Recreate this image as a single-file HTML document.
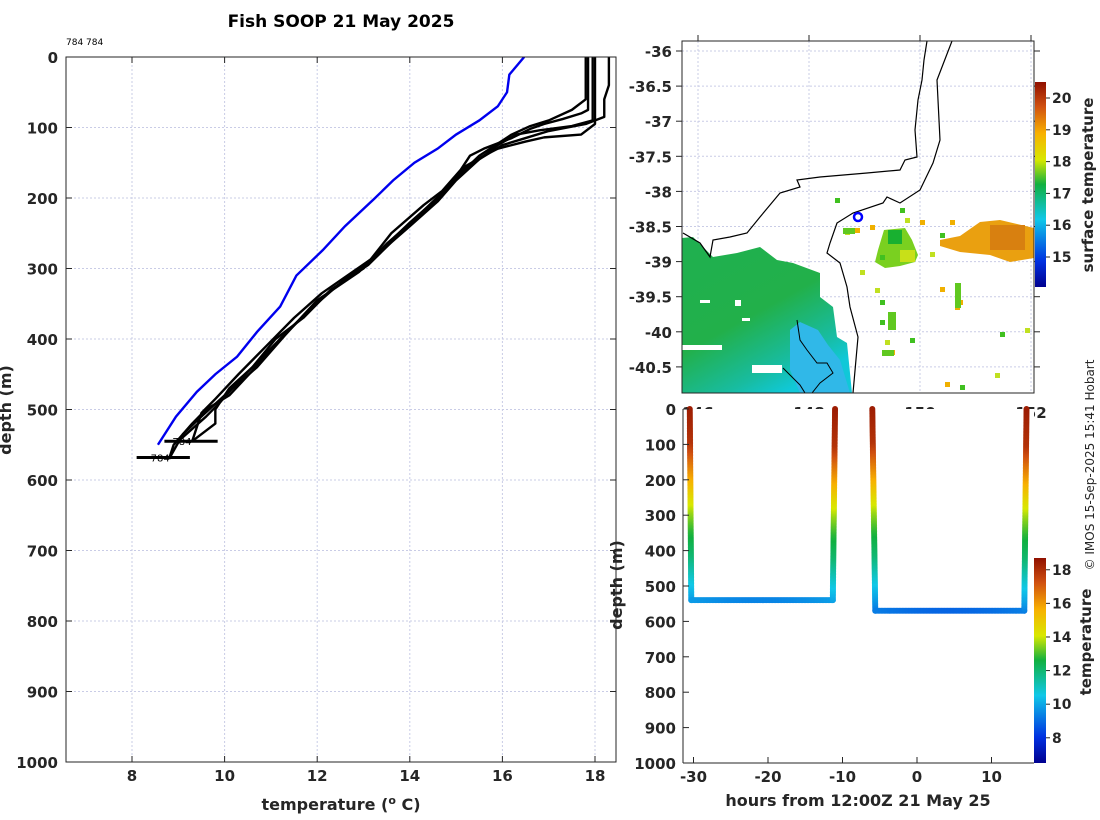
<!DOCTYPE html>
<html><head><meta charset="utf-8">
<style>
html,body{margin:0;padding:0;background:#fff;}
svg{display:block;font-family:"DejaVu Sans","Liberation Sans",sans-serif;}
.tk{font-size:15px;font-weight:bold;fill:#262626;}
.lb{font-size:16px;font-weight:bold;fill:#262626;}
.grid{stroke:#c9cce6;stroke-width:1;stroke-dasharray:2,2;}
</style></head>
<body>
<svg id="s" width="1100" height="820" viewBox="0 0 1100 820" xmlns="http://www.w3.org/2000/svg">
<defs>
<clipPath id="cpL"><rect x="66" y="57" width="550" height="705"/></clipPath>
<clipPath id="cpM"><rect x="682" y="41" width="352" height="352"/></clipPath>
<linearGradient id="jetV" x1="0" y1="1" x2="0" y2="0">
<stop offset="0" stop-color="#00008f"/><stop offset="0.125" stop-color="#0030e0"/><stop offset="0.33" stop-color="#10c8e8"/><stop offset="0.5" stop-color="#10b040"/><stop offset="0.62" stop-color="#d8e800"/><stop offset="0.75" stop-color="#f8b000"/><stop offset="0.88" stop-color="#d05010"/><stop offset="1" stop-color="#901000"/>
</linearGradient>
<linearGradient id="sstG" x1="0" y1="0" x2="0.6" y2="1">
<stop offset="0" stop-color="#1fb050"/><stop offset="0.55" stop-color="#22b04a"/><stop offset="0.85" stop-color="#18bca0"/><stop offset="1" stop-color="#10c8d8"/>
</linearGradient>
</defs>
<text x="341" y="27" text-anchor="middle" style="font-size:17px;font-weight:bold">Fish SOOP 21 May 2025</text>
<text x="66" y="45" style="font-size:9px">784 784</text>
<g id="left"></g>
<g id="map"></g>
<g id="track"></g>
<text transform="translate(1094,465) rotate(-90)" text-anchor="middle" style="font-size:12px;fill:#262626">© IMOS 15-Sep-2025 15:41 Hobart</text>
</svg>
<script>
// ---------- data ----------
const tempTicks=[8,10,12,14,16,18];
const depthTicks=[0,100,200,300,400,500,600,700,800,900,1000];
const blueTemp=[16.47,16.15,16.1,15.9,15.5,15.0,14.6,14.1,13.64,13.25,12.6,12.12,11.55,11.2,10.7,10.27,9.8,9.4,8.95,8.56];
const blueDepth=[0,25,50,70,90,110,130,150,175,200,240,274,310,354,390,425,450,475,510,550];
const profA_T=[17.85,17.85,17.7,17.3,16.9,16.6,16.2,15.6,15.3,15.1,14.7,14.3,13.6,13.0,12.3,11.7,11.1,10.6,10.1,9.8,9.8,9.3];
const profA_D=[0,75,80,88,95,102,115,130,140,160,190,210,250,300,330,370,400,440,470,500,520,545];
const profB_T=[17.95,17.95,17.5,16.8,16.3,15.9,15.7,15.4,14.9,14.5,13.8,13.1,12.3,11.5,10.9,10.3,9.9,9.6,9.0];
const profB_D=[0,90,98,104,110,125,135,150,180,205,250,295,330,380,420,460,490,510,545];
const profC_T=[18.0,18.0,17.7,16.9,16.5,15.9,15.6,15.2,14.7,14.2,13.5,12.9,12.0,11.3,10.7,10.0,9.5,9.1,8.8];
const profC_D=[0,95,110,114,120,130,140,155,195,225,265,305,345,395,440,480,510,535,570];
const profD_T=[18.3,18.3,18.2,18.2,17.8,17.0,16.5,16.0,15.5,15.0,14.6,14.0,13.3,12.6,11.9,11.2,10.6,10.1,9.6,9.3,8.9,8.8];
const profD_D=[0,40,60,85,95,105,115,125,145,175,205,240,280,315,355,400,445,480,500,520,550,570];
const profE_T=[17.8,17.8,17.5,17.0,16.6,16.2,15.5,15.1,14.6,14.0,13.2,12.1,11.5,10.9,10.3,9.8,9.5,9.3];
const profE_D=[0,60,75,90,98,110,140,165,200,235,285,335,370,410,450,485,505,545];
const markerDepth=[545,568];
const markerT0=[8.7,8.1];
const markerT1=[9.85,9.25];
const latTicks=[-36,-36.5,-37,-37.5,-38,-38.5,-39,-39.5,-40,-40.5];
const lonTicks=[146,148,150,152];
const sstTicks=[15,16,17,18,19,20];
const hourTicks=[-30,-20,-10,0,10];
const cbTicks=[8,10,12,14,16,18];
const trackHour1=[-30.5,-30.3,-11.3,-11.0];
const trackDepth1=[0,540,540,0];
const trackHour2=[-6.0,-5.6,14.4,14.7];
const trackDepth2=[0,570,570,0];
const trkDepth=[0,100,150,200,260,300,350,420,480,540,570];
const trkTemp=[18.4,17.9,16.8,15.8,14.4,13.6,12.8,12.0,10.9,9.9,9.3];
const flatTemp=[9.8,9.3];

const NS='http://www.w3.org/2000/svg';
function mk(parent,tag,attrs,text){const e=document.createElementNS(NS,tag);for(const k in attrs)e.setAttribute(k,attrs[k]);if(text!==undefined)e.textContent=text;parent.appendChild(e);return e;}
const cstops=[[0,[0,0,143]],[0.125,[0,48,224]],[0.33,[16,200,232]],[0.5,[16,176,64]],[0.62,[216,232,0]],[0.75,[248,176,0]],[0.88,[208,80,16]],[1,[144,16,0]]];
function jet(v){v=Math.max(0,Math.min(1,v));for(let i=1;i<cstops.length;i++){if(v<=cstops[i][0]){const a=cstops[i-1],b=cstops[i],f=(v-a[0])/(b[0]-a[0]);
 return 'rgb('+[0,1,2].map(k=>Math.round(a[1][k]+f*(b[1][k]-a[1][k]))).join(',')+')';}}return 'rgb(144,16,0)';}

// ---------- left profile plot ----------
const L=document.getElementById('left');
const lx=t=>132+(t-8)*46.3, ly=d=>57+d*0.705;
tempTicks.forEach(t=>{const l=mk(L,'line',{x1:lx(t),x2:lx(t),y1:57,y2:762,class:'grid'});
 mk(L,'line',{x1:lx(t),x2:lx(t),y1:762,y2:756,stroke:'#262626'});mk(L,'line',{x1:lx(t),x2:lx(t),y1:57,y2:63,stroke:'#262626'});
 const tx=mk(L,'text',{x:lx(t),y:781,'text-anchor':'middle',class:'tk'},t);});
depthTicks.forEach(d=>{if(d>0&&d<1000){const l=mk(L,'line',{x1:66,x2:616,y1:ly(d),y2:ly(d),class:'grid'});}
 mk(L,'line',{x1:66,x2:72,y1:ly(d),y2:ly(d),stroke:'#262626'});mk(L,'line',{x1:610,x2:616,y1:ly(d),y2:ly(d),stroke:'#262626'});
 const tx=mk(L,'text',{x:58,y:ly(d)+6,'text-anchor':'end',class:'tk'},d);});
const gL=mk(L,'g',{'clip-path':'url(#cpL)'});
[[profA_T,profA_D],[profB_T,profB_D],[profC_T,profC_D],[profD_T,profD_D],[profE_T,profE_D]].forEach((p,i)=>{
 const pl=mk(gL,'polyline',{points:p[0].map((t,j)=>lx(t)+','+ly(p[1][j])).join(' '),fill:'none',stroke:'#000','stroke-width':2.4,'stroke-linejoin':'round'});
 });
const bl=mk(gL,'polyline',{points:blueTemp.map((t,j)=>lx(t)+','+ly(blueDepth[j])).join(' '),fill:'none',stroke:'#0000ee','stroke-width':2.4});

markerDepth.forEach((d,i)=>{const m=mk(gL,'line',{x1:lx(markerT0[i]),x2:lx(markerT1[i]),y1:ly(d),y2:ly(d),stroke:'#000','stroke-width':3});
 mk(gL,'text',{x:lx(markerT0[i])+(i?14:8),y:ly(d)+4,style:'font-size:10px'},'784');});
mk(L,'rect',{x:66,y:57,width:550,height:705,fill:'none',stroke:'#262626','stroke-width':1});
let t1=mk(L,'text',{x:341,y:810,'text-anchor':'middle',class:'lb'});t1.innerHTML='temperature (<tspan dy="-6" style="font-size:11px">o</tspan><tspan dy="6"> C)</tspan>';

t1=mk(L,'text',{transform:'translate(11,410) rotate(-90)','text-anchor':'middle',class:'lb'},'depth (m)');

// ---------- map ----------
const M=document.getElementById('map');
const mx=lon=>698+(lon-146)*55.5, my=lat=>51+(-36-lat)*70.2;
const gM=mk(M,'g',{'clip-path':'url(#cpM)'});
lonTicks.forEach(l=>{mk(gM,'line',{x1:mx(l),x2:mx(l),y1:41,y2:393,class:'grid'});});
latTicks.forEach(l=>{mk(gM,'line',{x1:682,x2:1034,y1:my(l),y2:my(l),class:'grid'});});
let p=mk(gM,'polygon',{points:'682,238 693,237 713,257 737,253 760,247 777,260 793,263 820,273 820,297 833,307 837,337 847,343 852,393 682,393',fill:'url(#sstG)'});

[[682,345,40,5],[752,365,30,8],[700,300,10,3],[735,300,6,6],[742,318,8,3]].forEach(r=>mk(gM,'rect',{x:r[0],y:r[1],width:r[2],height:r[3],fill:'#fff'}));
mk(gM,'polygon',{points:'790,330 800,322 818,330 828,345 840,360 850,393 800,393 790,370',fill:'#30b8e8'});
p=mk(gM,'polygon',{points:'940,240 960,236 980,222 1000,220 1034,228 1034,258 1010,262 990,255 960,252 940,246',fill:'#eaa010'});

mk(gM,'rect',{x:990,y:225,width:35,height:25,fill:'#d88010'});
p=mk(gM,'polygon',{points:'884,230 905,228 912,240 918,255 915,262 900,266 885,268 875,262 878,250',fill:'#7ad020'});

mk(gM,'rect',{x:888,y:230,width:14,height:14,fill:'#18b030'});
mk(gM,'rect',{x:900,y:250,width:15,height:12,fill:'#c8e018'});
[[835,198],[845,230],[855,228],[900,208],[905,218],[920,220],[940,233],[955,290],[958,300],[880,320],[885,340],[890,350],[910,338],[930,252],[950,220],[1000,332],[1025,328],[945,382],[960,385],[995,373],[870,225],[880,300],[860,270],[940,287],[880,255],[875,288],[955,305],[968,395]].forEach((q,i)=>{
 mk(gM,'rect',{x:q[0],y:q[1],width:5,height:5,fill:i%3==0?'#40c020':(i%3==1?'#c0e020':'#f0b000')});});
[[843,228,12,6],[888,312,8,18],[955,283,6,25],[882,350,12,6]].forEach(r=>mk(gM,'rect',{x:r[0],y:r[1],width:r[2],height:r[3],fill:'#60c820'}));
p=mk(gM,'polyline',{points:'927,41 924,60 922,80 918,100 915,130 917,157 905,160 900,170 867,173 820,177 797,180 800,187 780,193 760,217 747,233 730,237 713,240 710,257 700,243 683,233',fill:'none',stroke:'#000','stroke-width':1.2});

p=mk(gM,'polyline',{points:'952,41 937,80 940,140 933,163 920,190 900,203 887,197 883,203 853,213 837,223 830,243 827,253 840,263 847,287 850,307 858,337 853,393',fill:'none',stroke:'#000','stroke-width':1.2});

mk(gM,'polyline',{points:'797,320 800,340 807,350 817,363 827,363 833,373 820,383 812,393',fill:'none',stroke:'#000','stroke-width':1});
mk(gM,'polyline',{points:'783,368 790,375 800,385 805,393',fill:'none',stroke:'#000','stroke-width':1});
p=mk(gM,'circle',{cx:858,cy:217,r:4,fill:'none',stroke:'#0000ff','stroke-width':2.5});
mk(M,'rect',{x:682,y:41,width:352,height:352,fill:'none',stroke:'#262626'});
latTicks.forEach(l=>{mk(M,'line',{x1:682,x2:676,y1:my(l),y2:my(l),stroke:'#262626'});mk(M,'line',{x1:1034,x2:1040,y1:my(l),y2:my(l),stroke:'#262626'});
 const tx=mk(M,'text',{x:672,y:my(l)+6,'text-anchor':'end',class:'tk'},l);});
lonTicks.forEach(l=>{mk(M,'line',{x1:mx(l),x2:mx(l),y1:41,y2:35,stroke:'#262626'});
 const tx=mk(M,'text',{x:mx(l),y:418,'text-anchor':'middle',class:'tk'},l);});
const sy=v=>257-(v-15)*31.8;
p=mk(M,'rect',{x:1035,y:82,width:11,height:205,fill:'url(#jetV)'});
sstTicks.forEach(v=>{mk(M,'line',{x1:1046,x2:1050,y1:sy(v),y2:sy(v),stroke:'#262626'});
 const tx=mk(M,'text',{x:1052,y:sy(v)+5,class:'tk',style:'font-size:14px'},v);});
t1=mk(M,'text',{transform:'translate(1093,185) rotate(-90)','text-anchor':'middle',class:'lb',style:'font-size:15px'},'surface temperature');


// ---------- depth-time track ----------
const T=document.getElementById('track');
const hx=h=>917+h*7.45, dy=d=>409+d*0.354;
const cmin=6.5,cmax=18.7;
mk(T,'rect',{x:683,y:409,width:351,height:354,fill:'#fff'});
function tempAt(d){for(let i=1;i<trkDepth.length;i++){if(d<=trkDepth[i]){const f=(d-trkDepth[i-1])/(trkDepth[i]-trkDepth[i-1]);return trkTemp[i-1]+f*(trkTemp[i]-trkTemp[i-1]);}}return trkTemp[trkTemp.length-1];}
[[trackHour1,trackDepth1],[trackHour2,trackDepth2]].forEach((tr,k)=>{
 const g=mk(T,'g',{});
 for(let s=0;s<3;s++){const h0=tr[0][s],h1=tr[0][s+1],d0=tr[1][s],d1=tr[1][s+1];
  const n=Math.max(2,Math.round(Math.hypot(hx(h1)-hx(h0),dy(d1)-dy(d0))/1.5));
  for(let i=0;i<=n;i++){const f=i/n,h=h0+f*(h1-h0),d=d0+f*(d1-d0);
   let t=(s===1)?flatTemp[k]-0.4*Math.sin(f*Math.PI):tempAt(d);
   mk(g,'circle',{cx:hx(h),cy:dy(d),r:3,fill:jet((t-cmin)/(cmax-cmin))});}}
});
mk(T,'line',{x1:683,x2:683,y1:409,y2:763,stroke:'#262626'});
mk(T,'line',{x1:683,x2:1034,y1:763,y2:763,stroke:'#262626'});
depthTicks.forEach(d=>{mk(T,'line',{x1:683,x2:689,y1:dy(d),y2:dy(d),stroke:'#262626'});
 const tx=mk(T,'text',{x:676,y:dy(d)+6,'text-anchor':'end',class:'tk'},d);});
hourTicks.forEach(h=>{mk(T,'line',{x1:hx(h),x2:hx(h),y1:763,y2:757,stroke:'#262626'});
 const tx=mk(T,'text',{x:hx(h),y:782,'text-anchor':'middle',class:'tk'},h);});
t1=mk(T,'text',{x:858,y:806,'text-anchor':'middle',class:'lb'},'hours from 12:00Z 21 May 25');
t1=mk(T,'text',{transform:'translate(622,585) rotate(-90)','text-anchor':'middle',class:'lb'},'depth (m)');
const cy=v=>763-(v-cmin)*(205/(cmax-cmin));
p=mk(T,'rect',{x:1034,y:558,width:12,height:205,fill:'url(#jetV)'});
cbTicks.forEach(v=>{mk(T,'line',{x1:1046,x2:1050,y1:cy(v),y2:cy(v),stroke:'#262626'});
 const tx=mk(T,'text',{x:1052,y:cy(v)+5,class:'tk',style:'font-size:14px'},v);});
t1=mk(T,'text',{transform:'translate(1091,642) rotate(-90)','text-anchor':'middle',class:'lb',style:'font-size:15px'},'temperature');

</script>
</body></html>
